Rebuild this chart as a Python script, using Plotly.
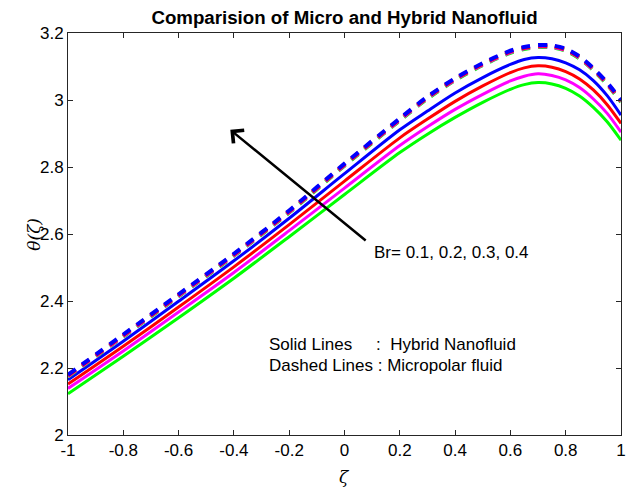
import plotly.graph_objects as go

zeta = [-1.0, -0.8, -0.6, -0.4, -0.2, 0.0, 0.2, 0.3, 0.4, 0.5, 0.6, 0.65, 0.7, 0.75, 0.8, 0.85, 0.9, 0.95, 1.0]

# Hybrid nanofluid (solid), Br = 0.1..0.4
solid_green   = [2.123, 2.235, 2.350, 2.468, 2.592, 2.718, 2.843, 2.898, 2.948, 2.993, 3.032, 3.046, 3.052, 3.048, 3.035, 3.012, 2.978, 2.935, 2.880]
solid_magenta = [2.139, 2.251, 2.367, 2.485, 2.610, 2.737, 2.864, 2.920, 2.972, 3.017, 3.057, 3.071, 3.078, 3.073, 3.060, 3.037, 3.003, 2.960, 2.904]
solid_red     = [2.152, 2.265, 2.382, 2.502, 2.628, 2.758, 2.887, 2.943, 2.996, 3.042, 3.082, 3.096, 3.102, 3.098, 3.085, 3.063, 3.030, 2.986, 2.930]
solid_blue    = [2.165, 2.280, 2.399, 2.520, 2.647, 2.780, 2.911, 2.967, 3.021, 3.067, 3.106, 3.121, 3.127, 3.123, 3.111, 3.090, 3.058, 3.013, 2.955]

# Micropolar fluid (dashed), Br = 0.1..0.4
dash_green    = [2.174, 2.294, 2.414, 2.535, 2.664, 2.804, 2.939, 3.004, 3.059, 3.104, 3.141, 3.152, 3.158, 3.157, 3.147, 3.124, 3.089, 3.046, 2.994]
dash_magenta  = [2.176, 2.296, 2.416, 2.537, 2.666, 2.806, 2.941, 3.006, 3.061, 3.106, 3.143, 3.154, 3.160, 3.159, 3.149, 3.126, 3.091, 3.048, 2.996]
dash_red      = [2.178, 2.298, 2.418, 2.539, 2.668, 2.808, 2.943, 3.008, 3.063, 3.108, 3.145, 3.156, 3.162, 3.161, 3.151, 3.128, 3.093, 3.050, 2.998]
dash_blue     = [2.180, 2.300, 2.420, 2.541, 2.670, 2.810, 2.945, 3.010, 3.065, 3.110, 3.147, 3.158, 3.164, 3.163, 3.153, 3.130, 3.095, 3.052, 3.000]

x_ticks = [-1, -0.8, -0.6, -0.4, -0.2, 0, 0.2, 0.4, 0.6, 0.8, 1]
x_tick_text = ["-1", "-0.8", "-0.6", "-0.4", "-0.2", "0", "0.2", "0.4", "0.6", "0.8", "1"]
y_ticks = [2, 2.2, 2.4, 2.6, 2.8, 3, 3.2]
y_tick_text = ["2", "2.2", "2.4", "2.6", "2.8", "3", "3.2"]

FONT = "Liberation Sans, Arial, sans-serif"
FS = 17

fig = go.Figure()

for ys, col in [(solid_green, "#00ff00"), (solid_magenta, "#ff00ff"),
                (solid_red, "#ff0000"), (solid_blue, "#0000ff")]:
    fig.add_trace(go.Scatter(x=zeta, y=ys, mode="lines",
                             line=dict(color=col, width=3, shape="spline", smoothing=0.8),
                             showlegend=False, hoverinfo="skip"))

for ys, col in [(dash_green, "#00ff00"), (dash_magenta, "#ff00ff"),
                (dash_red, "#ff0000"), (dash_blue, "#0000ff")]:
    fig.add_trace(go.Scatter(x=zeta, y=ys, mode="lines",
                             line=dict(color=col, width=4, dash="9px,8px", shape="spline", smoothing=0.8),
                             showlegend=False, hoverinfo="skip"))

# arrow
fig.add_annotation(x=-0.413, y=2.911, ax=0.082, ay=2.577, xref="x", yref="y",
                   axref="x", ayref="y", text="", showarrow=True,
                   arrowhead=4, arrowsize=1.3, arrowwidth=2.5, arrowcolor="black")

fig.add_annotation(x=0.10, y=2.545, xref="x", yref="y", text="Br= 0.1, 0.2, 0.3, 0.4",
                   showarrow=False, xanchor="left", yanchor="middle",
                   font=dict(family=FONT, size=FS, color="black"))
fig.add_annotation(x=-0.28, y=2.270, xref="x", yref="y", text="Solid Lines",
                   showarrow=False, xanchor="left", yanchor="middle",
                   font=dict(family=FONT, size=FS, color="black"))
fig.add_annotation(x=0.1075, y=2.270, xref="x", yref="y", text=":&nbsp; Hybrid Nanofluid",
                   showarrow=False, xanchor="left", yanchor="middle",
                   font=dict(family=FONT, size=FS, color="black"))
fig.add_annotation(x=-0.28, y=2.207, xref="x", yref="y",
                   text="Dashed Lines : Micropolar fluid",
                   showarrow=False, xanchor="left", yanchor="middle",
                   font=dict(family=FONT, size=FS, color="black"))

# axis titles
fig.add_annotation(x=0, y=-0.105, xref="x", yref="paper", text="<i>ζ</i>",
                   showarrow=False, yanchor="middle",
                   font=dict(family="DejaVu Serif, serif", size=17, color="black"))
fig.add_annotation(x=-0.062, y=0.5, xref="paper", yref="paper", text="<i>θ(ζ)</i>",
                   showarrow=False, textangle=-90, xanchor="center",
                   font=dict(family="DejaVu Serif, serif", size=17, color="black"))

fig.update_layout(
    width=628, height=487,
    margin=dict(l=68, r=2, t=33, b=52),
    paper_bgcolor="white", plot_bgcolor="white",
    title=dict(text="<b>Comparision of Micro and Hybrid Nanofluid</b>",
               x=0.5, xref="paper", y=1 - 17 / 487, yanchor="middle",
               font=dict(family=FONT, size=18.7, color="black")),
    font=dict(family=FONT, size=FS, color="black"),
)

fig.update_xaxes(range=[-1, 1], tickvals=x_ticks, ticktext=x_tick_text,
                 showgrid=False, zeroline=False, showline=True, linecolor="#262626",
                 linewidth=1, mirror="allticks", ticks="inside", ticklen=5,
                 ticklabeloverflow="allow",
                 tickcolor="#262626", tickfont=dict(family=FONT, size=FS, color="black"))
fig.update_yaxes(range=[2, 3.2], tickvals=y_ticks, ticktext=y_tick_text,
                 showgrid=False, zeroline=False, showline=True, linecolor="#262626",
                 linewidth=1, mirror="allticks", ticks="inside", ticklen=5,
                 ticklabeloverflow="allow",
                 tickcolor="#262626", tickfont=dict(family=FONT, size=FS, color="black"))

fig.write_html("out.html")
